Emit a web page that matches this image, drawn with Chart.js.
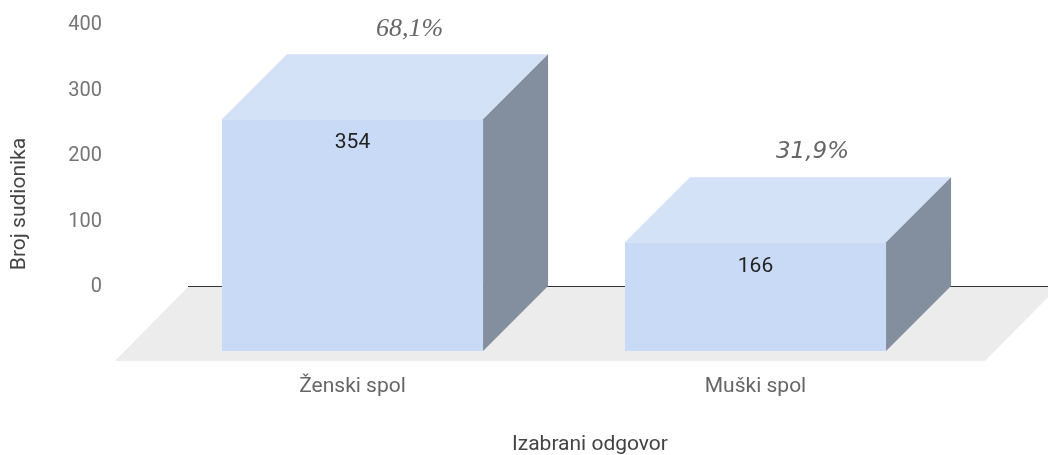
<!DOCTYPE html>
<html>
<head>
<meta charset="utf-8">
<script src="https://cdn.jsdelivr.net/npm/chart.js@4.4.1/dist/chart.umd.min.js"></script>
<style>
	body { margin: 0; background: #fff; }
	canvas { display: block; }
</style>
</head>
<body>
<canvas id="graficaSpol" width="1048" height="455"></canvas>
<script>
const kategorije = ['Ženski spol', 'Muški spol'];
const brojSudionika = [354, 166];
const postoci = ['68,1%', '31,9%'];
const yOznake = [0, 100, 200, 300, 400];
const naslovX = 'Izabrani odgovor';
const naslovY = 'Broj sudionika';

// 3D izgled (dubina stupca u pikselima)
const DUBINA = 65;
const fontPostotka = ['italic 26px "Liberation Serif"', 'italic 23px "DejaVu Sans"'];

const treciD = {
	id: 'treciD',
	beforeDatasetsDraw(chart) {
		const ctx = chart.ctx;
		const a = chart.chartArea;
		const baza = chart.scales.y.getPixelForValue(0);
		ctx.save();
		// pod
		ctx.fillStyle = '#ececec';
		ctx.beginPath();
		ctx.moveTo(a.left - 36, baza + 10);
		ctx.lineTo(a.right + 28, baza + 10);
		ctx.lineTo(a.right + 28 + 73, baza - DUBINA + 1);
		ctx.lineTo(a.left - 36 + 73, baza - DUBINA + 1);
		ctx.closePath();
		ctx.fill();
		// linija nule
		let yl = Math.round(baza - DUBINA) + 0.5;
		ctx.strokeStyle = '#333';
		ctx.lineWidth = 1;
		ctx.beginPath();
		ctx.moveTo(a.left + 37, yl);
		ctx.lineTo(chart.width, yl);
		ctx.stroke();
		ctx.restore();
	},
	afterDatasetsDraw(chart) {
		const ctx = chart.ctx;
		const meta = chart.getDatasetMeta(0);
		ctx.save();
		meta.data.forEach((bar, i) => {
			const p = bar.getProps(['x', 'y', 'base', 'width'], true);
			const l = p.x - p.width / 2;
			const r = p.x + p.width / 2;
			// gornja ploha
			ctx.fillStyle = '#d4e2f8';
			ctx.beginPath();
			ctx.moveTo(l, p.y);
			ctx.lineTo(r, p.y);
			ctx.lineTo(r + DUBINA, p.y - DUBINA);
			ctx.lineTo(l + DUBINA, p.y - DUBINA);
			ctx.closePath();
			ctx.fill();
			// bocna ploha
			ctx.fillStyle = '#838e9f';
			ctx.beginPath();
			ctx.moveTo(r, p.y);
			ctx.lineTo(r + DUBINA, p.y - DUBINA);
			ctx.lineTo(r + DUBINA, p.base - DUBINA);
			ctx.lineTo(r, p.base);
			ctx.closePath();
			ctx.fill();
			// vrijednost
			ctx.fillStyle = '#222';
			ctx.font = '21px Roboto';
			ctx.textAlign = 'center';
			ctx.textBaseline = 'middle';
			ctx.fillText(brojSudionika[i], p.x, p.y + 24);
			// postotak
			ctx.fillStyle = '#666';
			ctx.font = fontPostotka[i];
			ctx.fillText(postoci[i], p.x + DUBINA - 8, p.y - DUBINA - 25);
		});
		ctx.restore();
	},
	afterDraw(chart) {
		const ctx = chart.ctx;
		const a = chart.chartArea;
		ctx.save();
		ctx.fillStyle = '#444';
		ctx.font = '21px Roboto';
		ctx.textAlign = 'center';
		ctx.textBaseline = 'middle';
		ctx.fillText(naslovX, (a.left + a.right) / 2 + 36, 445);
		ctx.translate(20, (a.top + a.bottom) / 2 - 16);
		ctx.rotate(-Math.PI / 2);
		ctx.fillText(naslovY, 0, 0);
		ctx.restore();
	}
};

new Chart(document.getElementById('graficaSpol'), {
	type: 'bar',
	data: {
		labels: kategorije,
		datasets: [{
			label: naslovY,
			data: brojSudionika,
			backgroundColor: '#c8daf5',
			borderWidth: 0,
			barPercentage: 0.648,
			categoryPercentage: 1
		}]
	},
	options: {
		responsive: false,
		animation: false,
		devicePixelRatio: 1,
		layout: { padding: { top: 89, right: 91, left: 0, bottom: 0 } },
		plugins: {
			legend: { display: false },
			tooltip: { enabled: false }
		},
		scales: {
			x: {
				grid: { display: false, drawTicks: false },
				border: { display: false },
				ticks: {
					color: '#666',
					font: { family: 'Roboto', size: 21 },
					padding: 23
				},
				afterFit: s => { s.height = 104; }
			},
			y: {
				min: 0,
				max: 400,
				grid: { display: false, drawTicks: false },
				border: { display: false },
				afterBuildTicks: s => { s.ticks = yOznake.map(v => ({ value: v })); },
				ticks: {
					color: '#757575',
					font: { family: 'Roboto', size: 20 },
					padding: 49,
					labelOffset: -DUBINA + 1
				},
				afterFit: s => { s.width = 151; }
			}
		}
	},
	plugins: [treciD]
});
</script>
</body>
</html>
